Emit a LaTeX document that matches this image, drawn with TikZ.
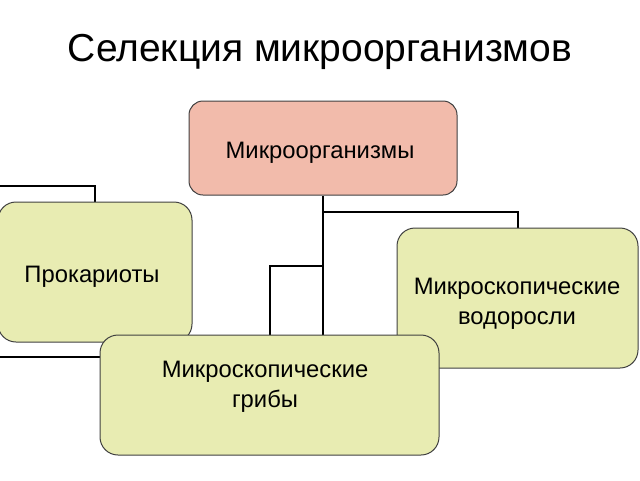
\documentclass[tikz,border=0pt]{standalone}
\usepackage{fontspec}
\setmainfont{Liberation Sans}
\usetikzlibrary{backgrounds}
\definecolor{salmon}{RGB}{242,187,171}
\definecolor{paleyel}{RGB}{232,236,178}
\definecolor{edge}{RGB}{64,64,64}
\begin{document}
\begin{tikzpicture}[x=1pt,y=-1pt,
  box/.style={draw=edge, line width=1pt, rounded corners=18pt, shape=rectangle, inner sep=0pt},
  lbl/.style={align=center, inner sep=0pt, font=\fontsize{23.8}{29.5}\selectfont},
  conn/.style={draw=black, line width=2pt}]
\useasboundingbox (0,0) rectangle (640,480);
\node[font=\fontsize{39}{44}\selectfont] (title) at (320,52) {Селекция микроорганизмов};
\node[box, fill=salmon, minimum width=268pt, minimum height=94pt, rounded corners=14pt] (m) at (323,148) {};
\node[box, fill=paleyel, minimum width=194pt, minimum height=140pt] (p) at (95,272) {};
\node[box, fill=paleyel, minimum width=241pt, minimum height=140pt] (a) at (517.5,298) {};
\node[box, fill=paleyel, minimum width=339pt, minimum height=120pt] (f) at (269.5,395) {};
\node[lbl, anchor=base] (mt) at (320,158) {Микроорганизмы};
\node[lbl, anchor=base] (pt) at (92,282) {Прокариоты};
\node[lbl, anchor=north] (at) at (517,278) {Микроскопические\\водоросли};
\node[lbl, anchor=north] (ft) at (265,361) {Микроскопические\\грибы};
\coordinate (l1) at (-10,186);
\coordinate (l2) at (-10,357);
\coordinate (b1) at (0,212);
\coordinate (b2) at (0,266);
\begin{scope}[on background layer]
  \draw[conn] (m.south) -- (m.south |- f.north);
  \draw[conn] (m.south |- b1) -| (a.north);
  \draw[conn] (m.south |- b2) -| (f.north);
  \draw[conn] (l1) -| (p.north);
  \draw[conn] (l2) -- (f.west |- l2);
\end{scope}
\end{tikzpicture}
\end{document}
